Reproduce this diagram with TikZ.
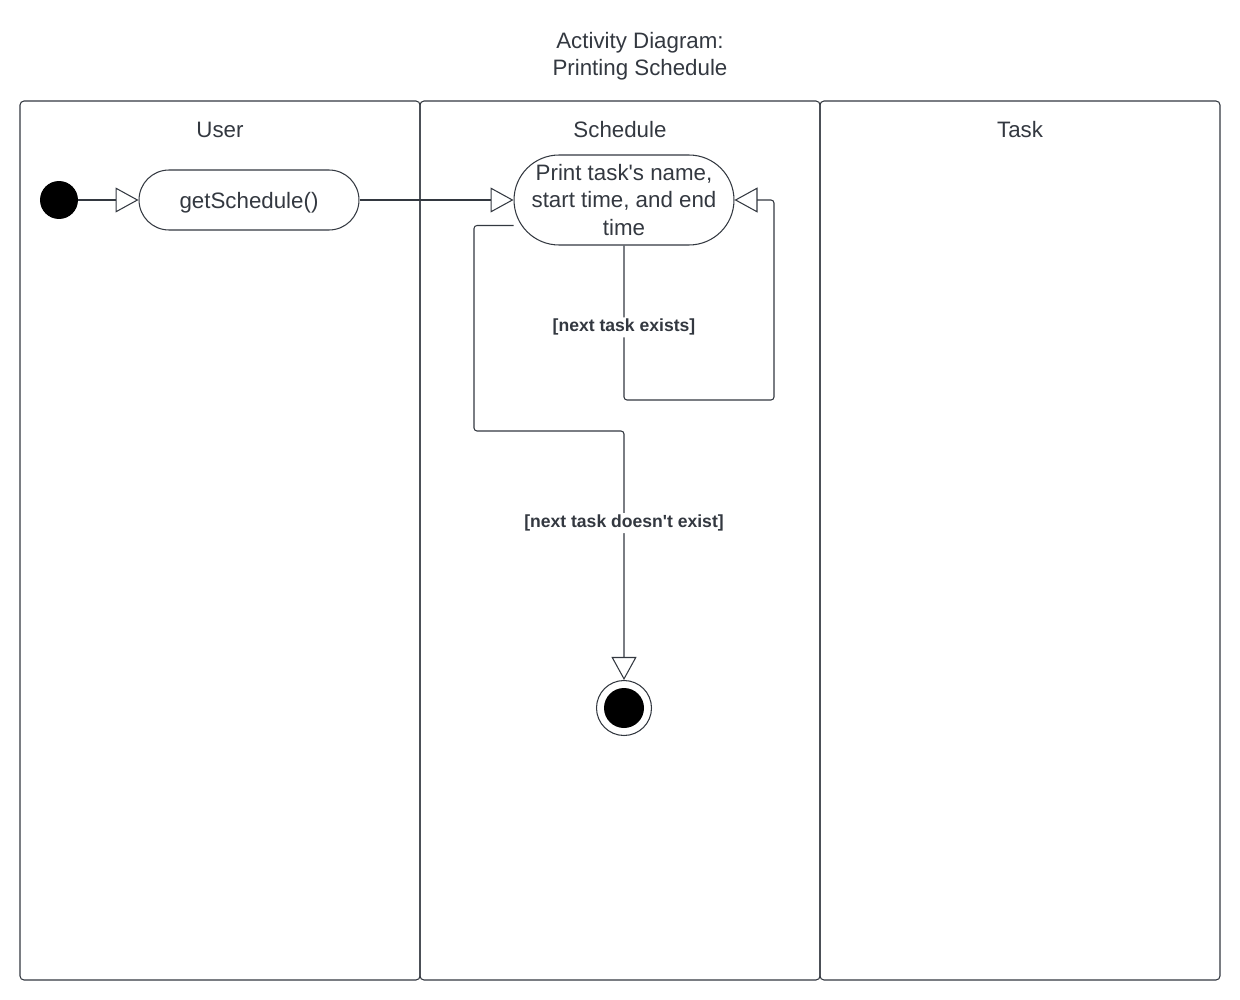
\documentclass[tikz,border=0pt]{standalone}
\usepackage{fontspec}
\setmainfont{Liberation Sans}
\usetikzlibrary{arrows.meta}

\definecolor{ink}{HTML}{333840}

\tikzset{
  lane/.style = {draw=ink, line width=0.6pt, rounded corners=0.08cm},
  action/.style = {draw=ink, line width=0.6pt, text=ink, align=center,
    minimum width=4.4cm, inner sep=0pt},
  flow/.style = {draw=ink, line width=0.6pt, rounded corners=0.06cm,
    -{Triangle[open, length=0.46cm, width=0.5cm]}},
  guard/.style = {fill=white, text=ink, inner sep=1pt,
    font=\fontsize{10}{12}\selectfont\bfseries}
}

\begin{document}
\begin{tikzpicture}[x = 0.02cm, y = -0.02cm,
  every node/.style = {font=\fontsize{12.7}{15.4}\selectfont, text=ink}]
  \useasboundingbox (0, 0) rectangle (1240, 1000);

  \node (T) at (640, 56) [align=center] {Activity Diagram:\\Printing Schedule};

  \draw[lane] (20, 101) rectangle (420, 980);
  \draw[lane] (420, 101) rectangle (820, 980);
  \draw[lane] (820, 101) rectangle (1220, 980);

  \node (L1) at (220, 130) {User};
  \node (L2) at (620, 130) {Schedule};
  \node (L3) at (1020, 130) {Task};

  \node (S) at (59, 200) [circle, fill=black, minimum size=0.76cm, inner sep=0pt] {};

  \node (A1) at (249, 200) [action, minimum height=1.2cm, rounded corners=0.6cm,
    text height=0.4cm, text depth=0.06cm] {getSchedule()};

  \node (A2) at (624, 200) [action, minimum height=1.8cm, rounded corners=0.9cm]
    {Print task\textquotesingle s name,\\start time, and end\\time};

  \node (E) at (624, 708) [circle, draw=ink, line width=0.6pt, minimum size=1.1cm,
    inner sep=0pt, path picture={\fill[black] (path picture bounding box.center) circle (0.4cm);}] {};

  \draw[flow] (S) -- (A1);
  \draw[flow] (A1) -- (A2);
  \draw[flow] (A2.south) -- (624, 400) node[pos=0.53, guard] {[next task exists]}
    -| (774, 200) -- (A2.east);
  \draw[flow] (A2.193) -| (474, 431) -| (E.north) node[pos=0.685, guard] {[next task doesn\textquotesingle t exist]};
\end{tikzpicture}
\end{document}
